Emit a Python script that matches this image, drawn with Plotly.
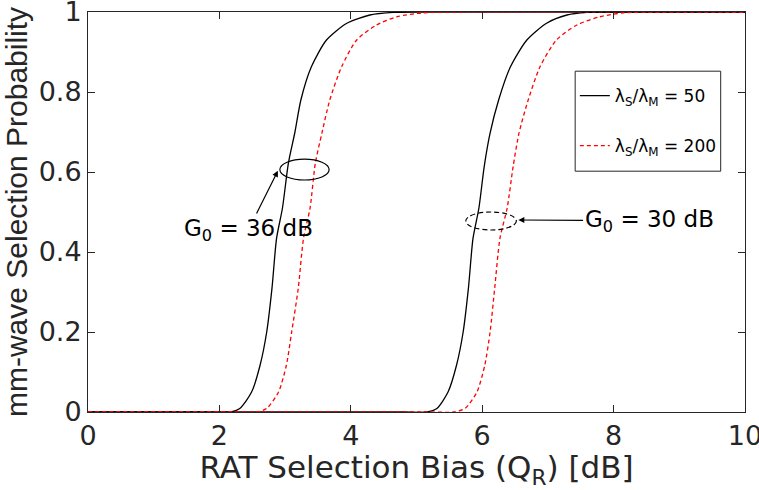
import plotly.graph_objects as go

# ---- data ----
x_ticks = [0, 2, 4, 6, 8, 10]
x_tick_text = ["0", "2", "4", "6", "8", "10"]
y_ticks = [0, 0.2, 0.4, 0.6, 0.8, 1]
y_tick_text = ["0", "0.2", "0.4", "0.6", "0.8", "1"]

# G0 = 36 dB, lambda_S/lambda_M = 50 (black solid)
bias_k36 = [0, 1.0, 1.8, 2.16, 2.31, 2.49, 2.62, 2.72, 2.80, 2.87, 2.96, 3.05, 3.15, 3.24, 3.40, 3.63, 3.94, 4.29, 4.65, 5.2, 10]
prob_k36 = [0, 0, 0, 0, 0.009, 0.05, 0.1175, 0.20, 0.309, 0.434, 0.51, 0.622, 0.70, 0.78, 0.863, 0.93, 0.972, 0.9925, 0.999, 1, 1]
# G0 = 36 dB, lambda_S/lambda_M = 200 (red dashed)
bias_r36 = [0, 1.0, 2.2, 2.57, 2.72, 2.90, 3.02, 3.10, 3.20, 3.28, 3.38, 3.46, 3.56, 3.68, 3.86, 4.09, 4.39, 4.70, 5.10, 5.7, 10]
prob_r36 = [0, 0, 0, 0, 0.009, 0.05, 0.1175, 0.20, 0.309, 0.434, 0.51, 0.622, 0.697, 0.78, 0.863, 0.93, 0.9675, 0.988, 0.998, 1, 1]
# G0 = 30 dB, lambda_S/lambda_M = 50 (black solid)
bias_k30 = [0, 2.5, 4.8, 5.15, 5.31, 5.48, 5.61, 5.71, 5.79, 5.86, 5.95, 6.03, 6.12, 6.25, 6.43, 6.68, 6.98, 7.29, 7.60, 8.2, 10]
prob_k30 = [0, 0, 0, 0, 0.009, 0.05, 0.1175, 0.20, 0.309, 0.434, 0.51, 0.613, 0.697, 0.78, 0.863, 0.93, 0.972, 0.9925, 0.999, 1, 1]
# G0 = 30 dB, lambda_S/lambda_M = 200 (red dashed)
bias_r30 = [0, 2.5, 5.2, 5.56, 5.74, 5.92, 6.04, 6.12, 6.19, 6.27, 6.38, 6.47, 6.56, 6.70, 6.88, 7.13, 7.44, 7.79, 8.15, 8.7, 10]
prob_r30 = [0, 0, 0, 0, 0.009, 0.05, 0.1175, 0.20, 0.309, 0.434, 0.51, 0.613, 0.697, 0.78, 0.863, 0.93, 0.9675, 0.988, 0.998, 1, 1]

legend_names = ["λ<sub>S</sub>/λ<sub>M</sub> = 50", "λ<sub>S</sub>/λ<sub>M</sub> = 200"]
label_36 = "G<sub>0</sub> = 36 dB"
label_30 = "G<sub>0</sub> = 30 dB"

FONT = "DejaVu Sans, Liberation Sans, Arial, sans-serif"
FONT_Y = "Liberation Sans, Arial, Helvetica, sans-serif"
AX = "#262626"

fig = go.Figure()
black = dict(color="black", width=1.3, shape="spline", smoothing=0.7)
red = dict(color="#ff0000", width=1.3, dash="4px,3px", shape="spline", smoothing=0.7)

fig.add_trace(go.Scatter(x=bias_k36, y=prob_k36, mode="lines", line=black,
                         name=legend_names[0], legendgroup="a", showlegend=True))
fig.add_trace(go.Scatter(x=bias_k30, y=prob_k30, mode="lines", line=black,
                         name=legend_names[0], legendgroup="a", showlegend=False))
fig.add_trace(go.Scatter(x=bias_r36, y=prob_r36, mode="lines", line=red,
                         name=legend_names[1], legendgroup="b", showlegend=True))
fig.add_trace(go.Scatter(x=bias_r30, y=prob_r30, mode="lines", line=red,
                         name=legend_names[1], legendgroup="b", showlegend=False))

# ellipses marking the curve pairs
fig.add_shape(type="circle", xref="x", yref="y", x0=2.92, x1=3.67, y0=0.58, y1=0.632,
              line=dict(color="black", width=1.2))
fig.add_shape(type="circle", xref="x", yref="y", x0=5.75, x1=6.52, y0=0.455, y1=0.50,
              line=dict(color="black", width=1.2, dash="5px,3px"))

# legend frame
fig.add_shape(type="rect", xref="paper", yref="paper", x0=0.7415, x1=0.963, y0=0.602, y1=0.852,
              line=dict(color=AX, width=1), fillcolor="white", layer="below")

# annotations with arrows
fig.add_annotation(x=2.89, y=0.603, ax=2.44, ay=0.455, xref="x", yref="y", axref="x", ayref="y",
                   text=label_36, showarrow=True, arrowhead=2, arrowsize=1, arrowwidth=1.2,
                   arrowcolor="black", standoff=0,
                   font=dict(family=FONT, size=23, color="black"))
fig.add_annotation(x=6.55, y=0.48, ax=8.54, ay=0.478, xref="x", yref="y", axref="x", ayref="y",
                   text=label_30, showarrow=True, arrowhead=2, arrowsize=1, arrowwidth=1.2,
                   arrowcolor="black", standoff=0,
                   font=dict(family=FONT, size=23, color="black"))

axis_common = dict(showgrid=False, zeroline=False, showline=True, linecolor=AX, linewidth=1,
                   mirror="allticks", ticks="inside", ticklen=7, tickcolor=AX, tickwidth=1,
                   tickfont=dict(family=FONT, size=27, color=AX), automargin=False,
                   ticklabeloverflow="allow")

fig.update_xaxes(range=[0, 10], tickvals=x_ticks, ticktext=x_tick_text,
                 title=dict(text="RAT Selection Bias (Q<sub>R</sub>) [dB]",
                            font=dict(family=FONT, size=31, color=AX), standoff=4),
                 **axis_common)
fig.update_yaxes(range=[0, 1], tickvals=y_ticks, ticktext=y_tick_text,
                 title=dict(text="mm-wave Selection Probability",
                            font=dict(family=FONT_Y, size=30, color=AX), standoff=2),
                 **axis_common)

fig.update_layout(
    width=759, height=490,
    margin=dict(l=88, r=14, t=12, b=78),
    paper_bgcolor="white", plot_bgcolor="white",
    showlegend=True,
    legend=dict(x=0.741, y=0.835, xanchor="left", yanchor="top",
                bgcolor="rgba(0,0,0,0)", borderwidth=0,
                font=dict(family=FONT, size=17, color="black"),
                itemwidth=30, tracegroupgap=25),
)

fig.write_html("out.html")
